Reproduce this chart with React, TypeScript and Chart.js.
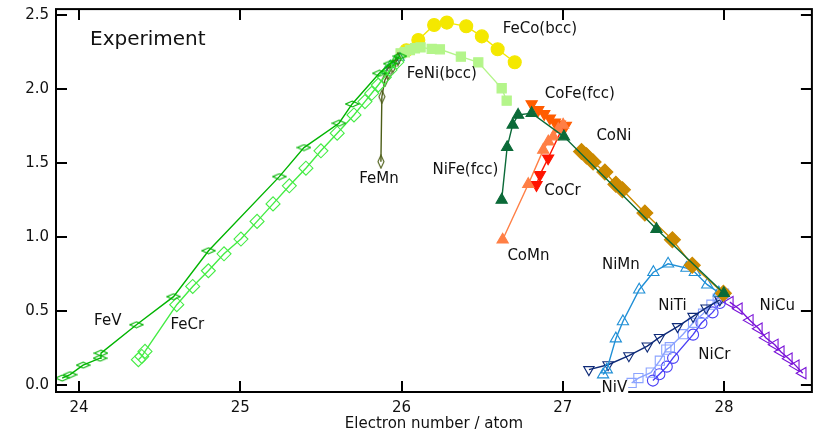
import React, { useEffect, useRef } from 'react';
import { Chart, registerables } from 'chart.js';

Chart.register(...registerables);

// ---- axis ticks ----
const xTickValues = [24, 25, 26, 27, 28];
const yTickValues = [0, 0.5, 1.0, 1.5, 2.0, 2.5];
const xTitle = 'Electron number / atom';

// ---- series data ----
const feVX = [23.895, 23.944, 24.025, 24.130, 24.136, 24.356, 24.586, 24.803, 25.242, 25.395, 25.612, 25.694, 25.862, 25.930, 25.990];
const feVY = [0.049, 0.072, 0.136, 0.183, 0.217, 0.409, 0.598, 0.908, 1.408, 1.604, 1.768, 1.898, 2.105, 2.170, 2.220];

const feCrX = [24.368, 24.389, 24.409, 24.606, 24.705, 24.802, 24.899, 25.004, 25.104, 25.203, 25.304, 25.407, 25.500, 25.601, 25.705, 25.773, 25.815, 25.856, 25.893, 25.928, 25.971];
const feCrY = [0.173, 0.195, 0.229, 0.544, 0.667, 0.773, 0.887, 0.987, 1.106, 1.224, 1.346, 1.465, 1.582, 1.701, 1.824, 1.914, 1.970, 2.026, 2.078, 2.127, 2.181];

const feMnX = [25.872, 25.878, 25.897, 25.920, 25.947, 25.978];
const feMnY = [1.509, 1.947, 2.060, 2.107, 2.154, 2.201];

const feMixX = [25.900, 25.930, 25.960, 25.990];
const feMixY = [2.120, 2.160, 2.190, 2.210];

const feNiX = [25.994, 26.021, 26.052, 26.083, 26.118, 26.187, 26.238, 26.368, 26.476, 26.621, 26.652];
const feNiY = [2.240, 2.247, 2.262, 2.274, 2.280, 2.269, 2.267, 2.217, 2.179, 2.004, 1.920];

const feCoX = [26.030, 26.104, 26.202, 26.281, 26.401, 26.498, 26.596, 26.702];
const feCoY = [2.260, 2.330, 2.431, 2.447, 2.422, 2.354, 2.267, 2.179];

const niFeX = [26.621, 26.655, 26.689, 26.723, 26.807, 27.007, 27.581, 27.999];
const niFeY = [1.251, 1.606, 1.757, 1.824, 1.836, 1.678, 1.054, 0.621];

const coFeX = [26.807, 26.848, 26.885, 26.920, 26.951, 26.982, 27.019];
const coFeY = [1.898, 1.858, 1.831, 1.802, 1.774, 1.761, 1.753];

const coMnX = [26.627, 26.786, 26.879, 26.910, 26.941, 26.972, 27.002];
const coMnY = [0.982, 1.357, 1.588, 1.644, 1.678, 1.728, 1.757];

const coCrX = [27.002, 26.909, 26.858, 26.837];
const coCrY = [1.745, 1.532, 1.420, 1.352];

const coNiX = [27.116, 27.147, 27.188, 27.261, 27.329, 27.370, 27.509, 27.680, 27.803, 27.996];
const coNiY = [1.577, 1.548, 1.506, 1.439, 1.356, 1.319, 1.162, 0.982, 0.810, 0.621];

const niMnX = [27.250, 27.273, 27.329, 27.373, 27.474, 27.562, 27.653, 27.767, 27.819, 27.896, 27.968];
const niMnY = [0.072, 0.106, 0.315, 0.431, 0.645, 0.763, 0.820, 0.791, 0.763, 0.679, 0.625];

const niTiX = [27.162, 27.281, 27.410, 27.524, 27.600, 27.712, 27.808, 27.889, 27.974];
const niTiY = [0.106, 0.139, 0.200, 0.265, 0.323, 0.396, 0.465, 0.522, 0.577];

const niVX = [27.427, 27.469, 27.546, 27.602, 27.642, 27.664, 27.746, 27.808, 27.870, 27.922, 27.961, 28.000];
const niVY = [0.016, 0.049, 0.086, 0.166, 0.241, 0.257, 0.345, 0.422, 0.483, 0.544, 0.584, 0.618];

const niCrX = [27.559, 27.599, 27.645, 27.684, 27.808, 27.860, 27.929, 27.974, 28.000];
const niCrY = [0.032, 0.075, 0.126, 0.185, 0.342, 0.420, 0.492, 0.555, 0.618];

const niCuX = [28.036, 28.092, 28.160, 28.216, 28.259, 28.315, 28.352, 28.402, 28.445, 28.488];
const niCuY = [0.561, 0.517, 0.439, 0.382, 0.321, 0.274, 0.227, 0.180, 0.133, 0.082];

// ---- annotation labels (anchored in data units) ----
const labelTexts = ['FeCo(bcc)', 'FeNi(bcc)', 'FeMn', 'NiFe(fcc)', 'CoFe(fcc)', 'CoNi', 'CoCr', 'CoMn', 'NiMn', 'NiTi', 'NiCr', 'NiCu', 'NiV', 'FeV', 'FeCr'];
const labelXs = [26.858, 26.250, 25.860, 26.396, 27.106, 27.317, 26.998, 26.787, 27.360, 27.680, 27.940, 28.330, 27.320, 24.178, 24.671];
const labelYs = [2.404, 2.100, 1.393, 1.454, 1.963, 1.682, 1.309, 0.871, 0.813, 0.534, 0.207, 0.534, -0.022, 0.431, 0.409];
const panelText = 'Experiment';
const panelX = 24.068;
const panelY = 2.330;

const FONT = '"DejaVu Sans", Verdana, sans-serif';

function pts(xs: number[], ys: number[]) {
  return xs.map((x, i) => ({ x, y: ys[i] }));
}

function diamondImage(w: number, h: number, color: string) {
  const c = document.createElement('canvas');
  c.width = w + 2;
  c.height = h + 2;
  const g = c.getContext('2d')!;
  g.strokeStyle = color;
  g.lineWidth = 1.1;
  g.beginPath();
  g.moveTo(c.width / 2, 1);
  g.lineTo(c.width - 1, c.height / 2);
  g.lineTo(c.width / 2, c.height - 1);
  g.lineTo(1, c.height / 2);
  g.closePath();
  g.stroke();
  return c;
}

export default function App() {
  const ref = useRef<HTMLCanvasElement | null>(null);

  useEffect(() => {
    document.body.style.margin = '0';
    const canvas = ref.current!;

    const series = (label: string, xs: number[], ys: number[], color: string, pointStyle: any, radius: number, filled: boolean, rotation = 0, lineColor?: string) => ({
      label,
      data: pts(xs, ys),
      showLine: true,
      borderColor: lineColor || color,
      borderWidth: 1.4,
      pointStyle,
      pointRadius: radius,
      pointRotation: rotation,
      pointBorderColor: color,
      pointBackgroundColor: filled ? color : 'rgba(0,0,0,0)',
      pointBorderWidth: 1.1,
      tension: 0,
    });

    const datasets = [
      series('FeV', feVX, feVY, '#00b400', diamondImage(13, 6, '#00b400'), 6, false),
      series('FeCr', feCrX, feCrY, '#44ec44', 'rectRot', 7, false),
      series('FeMn', feMnX, feMnY, '#4d5e18', diamondImage(6, 13, '#4d5e18'), 6, false),
      series('FeMix', feMixX, feMixY, '#2f9e78', 'triangle', 5, false),
      series('FeNi(bcc)', feNiX, feNiY, '#b4f58a', 'rect', 6.5, true),
      series('FeCo(bcc)', feCoX, feCoY, '#f4e800', 'circle', 6.5, true),
      series('NiFe(fcc)', niFeX, niFeY, '#0b6a38', 'triangle', 6.5, true),
      series('CoMn', coMnX, coMnY, '#ff7f45', 'triangle', 6.5, true),
      series('CoFe(fcc)', coFeX, coFeY, '#ff5c00', 'triangle', 6.5, true, 180),
      series('CoCr', coCrX, coCrY, '#ff1400', 'triangle', 6.5, true, 180),
      series('CoNi', coNiX, coNiY, '#cc8a00', 'rectRot', 8, true),
      series('NiMn', niMnX, niMnY, '#1f8fd6', 'triangle', 6.5, false),
      series('NiTi', niTiX, niTiY, '#0e2a78', 'triangle', 6, false, 180),
      series('NiV', niVX, niVY, '#8ba3ff', 'rect', 6.5, false),
      series('NiCr', niCrX, niCrY, '#4a3ff5', 'circle', 5.5, false),
      series('NiCu', niCuX, niCuY, '#7a12d8', 'triangle', 6.5, false, -90),
    ];

    const framePlugin = {
      id: 'frame',
      afterDraw(chart: any) {
        const { ctx, chartArea: a, scales } = chart;
        const xs = scales.x;
        const ys = scales.y;
        ctx.save();
        ctx.strokeStyle = '#000';
        ctx.lineWidth = 2;
        ctx.strokeRect(a.left, a.top, a.right - a.left, a.bottom - a.top);
        const tl = 11;
        ctx.beginPath();
        xTickValues.forEach((v) => {
          const p = Math.round(xs.getPixelForValue(v));
          ctx.moveTo(p, a.bottom);
          ctx.lineTo(p, a.bottom - tl);
          ctx.moveTo(p, a.top);
          ctx.lineTo(p, a.top + tl);
        });
        yTickValues.forEach((v) => {
          const p = Math.round(ys.getPixelForValue(v));
          ctx.moveTo(a.left, p);
          ctx.lineTo(a.left + tl, p);
          ctx.moveTo(a.right, p);
          ctx.lineTo(a.right - tl, p);
        });
        ctx.stroke();

        ctx.fillStyle = '#111';
        ctx.textBaseline = 'middle';
        ctx.font = `15px ${FONT}`;
        labelTexts.forEach((t, i) => {
          const px = xs.getPixelForValue(labelXs[i]);
          const py = ys.getPixelForValue(labelYs[i]);
          const w = ctx.measureText(t).width;
          if (t === 'NiV') {
            ctx.fillStyle = '#fff';
            ctx.fillRect(px - w / 2 - 1, py - 8, w + 2, 16);
            ctx.fillStyle = '#111';
          }
          ctx.textAlign = 'center';
          ctx.fillText(t, px, py);
        });
        ctx.font = `20px ${FONT}`;
        ctx.textAlign = 'left';
        ctx.fillText(panelText, xs.getPixelForValue(panelX), ys.getPixelForValue(panelY));
        ctx.restore();
      },
    };

    const chart = new Chart(canvas, {
      type: 'scatter',
      data: { datasets: datasets as any },
      options: {
        animation: false,
        responsive: false,
        maintainAspectRatio: false,
        layout: { padding: { top: 9, right: 9, left: 0, bottom: 0 } },
        plugins: { legend: { display: false }, tooltip: { enabled: false } },
        scales: {
          x: {
            type: 'linear',
            min: 23.857,
            max: 28.545,
            grid: { display: false, drawTicks: false },
            border: { display: false },
            afterBuildTicks: (s: any) => { s.ticks = xTickValues.map((v) => ({ value: v })); },
            afterFit: (s: any) => { s.height = 40; s.paddingLeft = 0; s.paddingRight = 0; },
            ticks: { color: '#111', font: { family: FONT, size: 15 }, padding: 7, callback: (v: any) => String(v) },
            title: { display: true, text: xTitle, color: '#111', font: { family: FONT, size: 15, lineHeight: 1.0667 }, padding: { top: 0, bottom: 0 } },
          },
          y: {
            type: 'linear',
            min: -0.045,
            max: 2.538,
            grid: { display: false, drawTicks: false },
            border: { display: false },
            afterBuildTicks: (s: any) => { s.ticks = yTickValues.map((v) => ({ value: v })); },
            afterFit: (s: any) => { s.width = 56; s.paddingTop = 0; s.paddingBottom = 0; },
            ticks: { color: '#111', font: { family: FONT, size: 15 }, padding: 7, callback: (v: any) => Number(v).toFixed(1) },
          },
        },
      },
      plugins: [framePlugin],
    });
    return () => chart.destroy();
  }, []);

  return (
    <div style={{ width: 821, height: 432, background: '#fff' }}>
      <canvas ref={ref} width={821} height={432} style={{ display: 'block' }} />
    </div>
  );
}
